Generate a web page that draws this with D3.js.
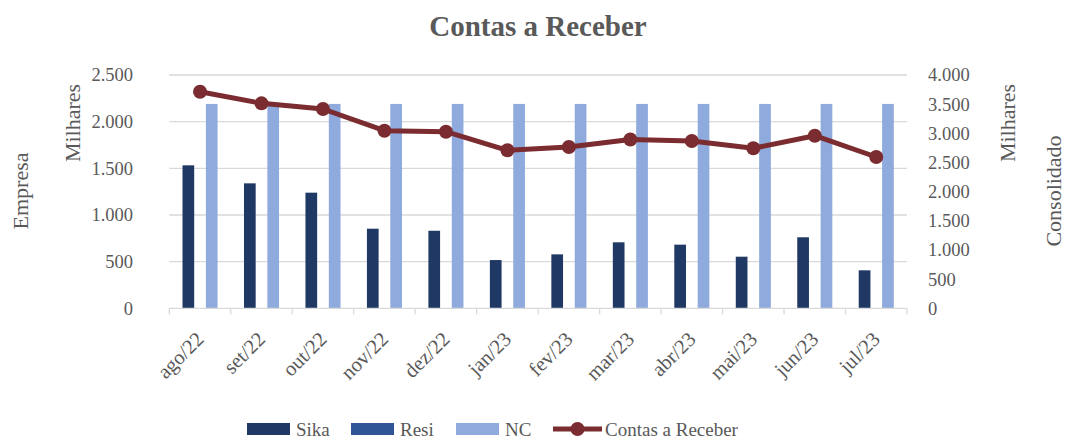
<html>
  <head>
    <meta charset="utf-8"/>
    <style>
      body { margin: 0; background: #fff; }
      text { font-family: "Liberation Serif", "DejaVu Serif", serif; fill: #595959; }
    </style>
  </head>
  <body>
    <svg></svg>
  </body>
  <script src="https://d3js.org/d3.v7.min.js"></script>
  <script>
  var months = ["ago/22","set/22","out/22","nov/22","dez/22","jan/23","fev/23","mar/23","abr/23","mai/23","jun/23","jul/23"]
  var sika = [1532, 1339, 1239, 853, 831, 517, 578, 707, 682, 553, 761, 407]
  var resi = [0, 0, 0, 0, 0, 0, 0, 0, 0, 0, 0, 0]
  var nc = [2190, 2190, 2190, 2190, 2190, 2190, 2190, 2190, 2190, 2190, 2190, 2190]
  var contas = [3713, 3514, 3417, 3045, 3028, 2709, 2765, 2895, 2868, 2743, 2959, 2594]
  var leftTicks = [0, 500, 1000, 1500, 2000, 2500]
  var rightTicks = [0, 500, 1000, 1500, 2000, 2500, 3000, 3500, 4000]

  var series = [
    {name: "Sika", values: sika, color: "#1f3864"},
    {name: "Resi", values: resi, color: "#2f5597"},
    {name: "NC", values: nc, color: "#8faadc"}
  ]
  var lineColor = "#7b2c30"

  var W = 1068, H = 440
  var plot = {left: 169.3, right: 907, top: 75, bottom: 308.3}

  var loc = d3.formatLocale({decimal: ",", thousands: ".", grouping: [3], currency: ["", ""]})
  var fmt = loc.format(",")

  var svg = d3.select("svg").attr("width", W).attr("height", H)

  var x = d3.scaleBand().domain(months).range([plot.left, plot.right]).paddingInner(0).paddingOuter(0)
  var x1 = d3.scaleBand().domain(series.map(function(s){return s.name}))
    .range([0, x.bandwidth()]).paddingInner(0).paddingOuter(1.13)
  var yL = d3.scaleLinear().domain([0, 2500]).range([plot.bottom, plot.top])
  var yR = d3.scaleLinear().domain([0, 4000]).range([plot.bottom, plot.top])

  // title
  svg.append("text").attr("x", 538).attr("y", 36).attr("text-anchor", "middle")
    .style("font-size", "29px").style("font-weight", "bold").text("Contas a Receber")

  // gridlines
  svg.append("g").selectAll("line").data(leftTicks.slice(1)).enter().append("line")
    .attr("x1", plot.left).attr("x2", plot.right)
    .attr("y1", function(d){return yL(d)}).attr("y2", function(d){return yL(d)})
    .attr("stroke", "#d9d9d9").attr("stroke-width", 1.3)

  // left axis
  var gl = svg.append("g").attr("transform", "translate(133,0)")
    .call(d3.axisLeft(yL).tickValues(leftTicks).tickFormat(fmt).tickSize(0).tickPadding(0))
  gl.select(".domain").remove()
  gl.selectAll("text").style("font-size", "18.5px").attr("fill", "#595959")

  // right axis
  var gr = svg.append("g").attr("transform", "translate(928,0)")
    .call(d3.axisRight(yR).tickValues(rightTicks).tickFormat(fmt).tickSize(0).tickPadding(0))
  gr.select(".domain").remove()
  gr.selectAll("text").style("font-size", "18.5px").attr("fill", "#595959")

  // bars
  var groups = svg.append("g").selectAll("g").data(months).enter().append("g")
    .attr("transform", function(d){ return "translate(" + x(d) + ",0)" })
  groups.selectAll("rect").data(function(d, i){
      return series.map(function(s){ return {name: s.name, value: s.values[i], color: s.color} })
    }).enter().append("rect")
    .attr("x", function(d){ return x1(d.name) })
    .attr("width", x1.bandwidth())
    .attr("y", function(d){ return yL(d.value) })
    .attr("height", function(d){ return yL(0) - yL(d.value) })
    .attr("fill", function(d){ return d.color })

  // x axis
  var gx = svg.append("g").attr("transform", "translate(0," + plot.bottom + ")")
  gx.append("line").attr("x1", plot.left).attr("x2", plot.right).attr("stroke", "#d9d9d9").attr("stroke-width", 1.3)
  gx.selectAll("line.tk").data(months.concat(["end"])).enter().append("line")
    .attr("class", "tk")
    .attr("x1", function(d){ return d === "end" ? plot.right : x(d) })
    .attr("x2", function(d){ return d === "end" ? plot.right : x(d) })
    .attr("y1", 0).attr("y2", 6).attr("stroke", "#d9d9d9").attr("stroke-width", 1.3)
  gx.selectAll("text").data(months).enter().append("text")
    .attr("transform", function(d){ return "translate(" + (x(d) + x.bandwidth() / 2) + ",27) rotate(-45)" })
    .attr("text-anchor", "end").attr("dy", "0.35em")
    .style("font-size", "20.5px").text(function(d){ return d })

  // line
  var line = d3.line()
    .x(function(d, i){ return x(months[i]) + x.bandwidth() / 2 })
    .y(function(d){ return yR(d) })
  svg.append("path").datum(contas).attr("d", line)
    .attr("fill", "none").attr("stroke", lineColor).attr("stroke-width", 5).attr("stroke-linejoin", "round")
  svg.append("g").selectAll("circle").data(contas).enter().append("circle")
    .attr("cx", function(d, i){ return x(months[i]) + x.bandwidth() / 2 })
    .attr("cy", function(d){ return yR(d) })
    .attr("r", 7).attr("fill", lineColor)

  // axis titles
  svg.append("text").attr("transform", "translate(28,191) rotate(-90)").attr("text-anchor", "middle")
    .style("font-size", "22px").text("Empresa")
  svg.append("text").attr("transform", "translate(80,123) rotate(-90)").attr("text-anchor", "middle")
    .style("font-size", "22px").text("Milhares")
  svg.append("text").attr("transform", "translate(1015,123) rotate(-90)").attr("text-anchor", "middle")
    .style("font-size", "22px").text("Milhares")
  svg.append("text").attr("transform", "translate(1061,191) rotate(-90)").attr("text-anchor", "middle")
    .style("font-size", "22px").text("Consolidado")

  // legend
  var legendItems = [
    {name: "Sika", x: 247, type: "bar", color: series[0].color},
    {name: "Resi", x: 351, type: "bar", color: series[1].color},
    {name: "NC", x: 456, type: "bar", color: series[2].color},
    {name: "Contas a Receber", x: 553, type: "line", color: lineColor}
  ]
  var lg = svg.append("g").selectAll("g").data(legendItems).enter().append("g")
    .attr("transform", function(d){ return "translate(" + d.x + ",429)" })
  lg.filter(function(d){ return d.type === "bar" }).append("rect")
    .attr("x", 0).attr("y", -6).attr("width", 43).attr("height", 12).attr("fill", function(d){ return d.color })
  lg.filter(function(d){ return d.type === "line" }).append("line")
    .attr("x1", 0).attr("x2", 49).attr("stroke", function(d){ return d.color }).attr("stroke-width", 5)
  lg.filter(function(d){ return d.type === "line" }).append("circle")
    .attr("cx", 24.5).attr("r", 7).attr("fill", function(d){ return d.color })
  lg.append("text").attr("x", function(d){ return d.type === "line" ? 52 : 49 }).attr("dy", "0.35em")
    .style("font-size", "19px").text(function(d){ return d.name })
  </script>
</html>
